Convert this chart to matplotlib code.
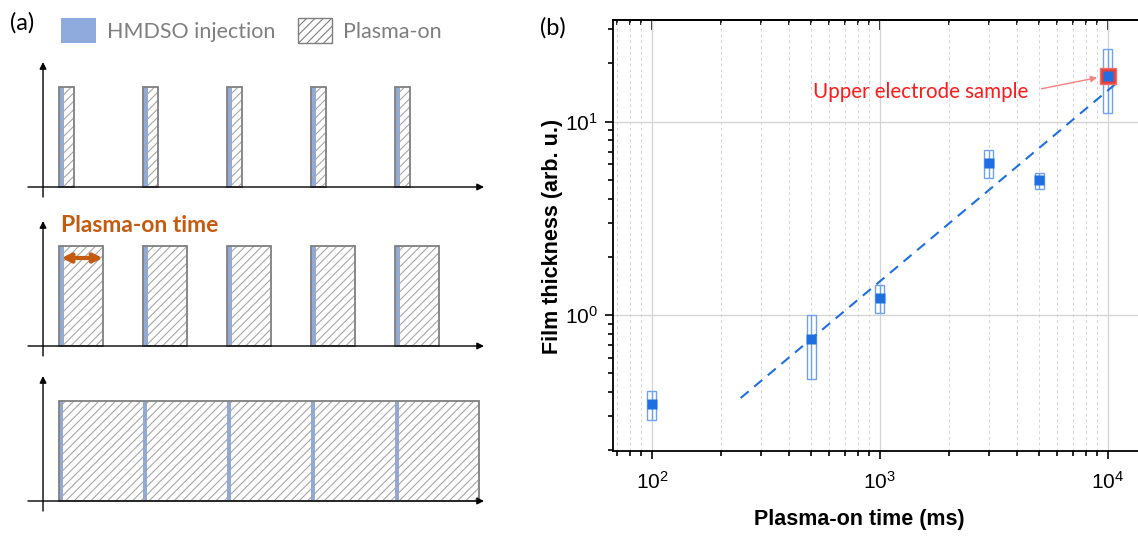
import matplotlib.pyplot as plt
from matplotlib.patches import Patch, Rectangle
from matplotlib.ticker import NullFormatter, LogLocator

plt.rcParams["hatch.linewidth"] = 0.8
plt.rcParams["font.family"] = "Liberation Sans"
plt.rcParams["mathtext.fontset"] = "custom"
plt.rcParams["mathtext.rm"] = "Liberation Sans"
plt.rcParams["mathtext.it"] = "Liberation Sans:italic"
plt.rcParams["mathtext.default"] = "regular"

# (a) schematic: pulse starts (in periods), HMDSO and plasma-on lengths per row
pulse_start = [0, 1, 2, 3, 4]
inject_len = [0.065, 0.065, 0.05]
plasma_len = [0.18, 0.52, 1.0]

# (b) film thickness vs plasma-on time
t_ms = [100, 500, 1000, 3000, 5000, 10000]
thick = [0.348, 0.75, 1.23, 6.13, 4.99, 17.3]
thick_lo = [0.287, 0.467, 1.02, 5.08, 4.46, 11.1]
thick_hi = [0.406, 1.0, 1.43, 7.13, 5.4, 23.8]
fit_t = [245, 10840]
fit_y = [0.372, 15.7]

W, H = 1138, 539
BLUE = "#8faadc"
GRAY = "#7f7f7f"
HATCH = "#a6a6a6"


def px(left, top, right, bottom):
    return [left / W, 1 - bottom / H, (right - left) / W, (bottom - top) / H]


def schematic_row(fig, baseline, inj, plas):
    ax = fig.add_axes(px(20, baseline - 135, 490, baseline + 20))
    ax.set_xlim(-0.464, 5.131)
    ax.set_ylim(-0.2, 1.35)
    ax.axis("off")
    if plas >= 1.0:
        starts = [pulse_start[0]]
        widths = [pulse_start[-1] + plas - pulse_start[0]]
    else:
        starts = pulse_start
        widths = [plas] * len(pulse_start)
    ax.bar(starts, 1, width=widths, align="edge", color="white", lw=0, zorder=1)
    ax.bar(pulse_start, 1, width=inj, align="edge", color=BLUE, lw=0, zorder=2)
    ax.bar(starts, 1, width=widths, align="edge", facecolor="none",
           edgecolor=HATCH, hatch="////", lw=0, zorder=3)
    ax.bar(starts, 1, width=widths, align="edge", facecolor="none",
           edgecolor=GRAY, lw=1.3, zorder=4)
    arrow = dict(arrowstyle="-|>", color="black", lw=1, mutation_scale=10, shrinkA=0, shrinkB=0)
    ax.annotate("", xy=(5.06, 0), xytext=(-0.369, 0), arrowprops=arrow, zorder=5)
    ax.annotate("", xy=(-0.19, 1.25), xytext=(-0.19, -0.1), arrowprops=arrow, zorder=5)
    return ax


fig = plt.figure(figsize=(W / 100, H / 100), dpi=100)

schematic_row(fig, 187, inject_len[0], plasma_len[0])
ax_mid = schematic_row(fig, 346, inject_len[1], plasma_len[1])
schematic_row(fig, 501, inject_len[2], plasma_len[2])

ax_mid.annotate("", xy=(pulse_start[0] + plasma_len[1], 0.88), xytext=(pulse_start[0] + 0.03, 0.88),
                arrowprops=dict(arrowstyle="<|-|>", color="#c55a11", lw=3,
                                mutation_scale=13, shrinkA=0, shrinkB=0), zorder=6)
ax_mid.text(pulse_start[0] + 0.02, 1.2, "Plasma-on time", color="#c55a11", fontsize=16.5,
            fontweight="bold", family="Lato", va="center", ha="left")

handles = [Patch(facecolor=BLUE, edgecolor="none"),
           Patch(facecolor="white", edgecolor=GRAY, hatch="////")]
fig.legend(handles, ["HMDSO injection", "Plasma-on"], loc="upper left",
           bbox_to_anchor=(42 / W, 1 + 1 / H), ncol=2, frameon=False,
           prop={"family": "Lato", "size": 15.5}, labelcolor=GRAY,
           handlelength=1.6, handleheight=1.4, handletextpad=0.5, columnspacing=1.05)
fig.text(10 / W, 1 - 23 / H, "(a)", fontsize=17, family="Lato", va="center")
fig.text(540 / W, 1 - 28 / H, "(b)", fontsize=17, family="Lato", va="center")

# (b)
ax = fig.add_axes(px(613, 20, 1138, 451))
ax.set_xscale("log")
ax.set_yscale("log")
ax.set_xlim(67.5, 13550)
ax.set_ylim(0.198, 33.5)

f = 1.0465
for t, lo, hi in zip(t_ms, thick_lo, thick_hi):
    ax.add_patch(Rectangle((t / f, lo), t * f - t / f, hi - lo, fill=False,
                           edgecolor="#6ea2ef", lw=1, zorder=3))
ax.vlines(t_ms, thick_lo, thick_hi, color="#6ea2ef", lw=1, zorder=3)
ax.plot(fit_t, fit_y, ls=(0, (5, 3.5)), color="#1f6fe0", lw=1.5, zorder=4)
ax.plot(t_ms[-1], thick[-1], "s", ms=11, color="#e8403a", mec="#f07070", zorder=5)
ax.plot(t_ms, thick, "s", ms=6.6, color="#1f6fe0", mec="none", zorder=6)

ax.annotate("Upper electrode sample", xy=(t_ms[-1], thick[-1]), xytext=(-80, -16),
            textcoords="offset pixels", ha="right", va="center", color="#ff1a1a",
            fontsize=14.8, family="Lato",
            arrowprops=dict(arrowstyle="-|>", color="#f4827e", lw=1, mutation_scale=9,
                            relpos=(1, 0.5), shrinkA=8, shrinkB=8))

ax.xaxis.set_minor_locator(LogLocator(base=10, subs=range(2, 10), numticks=20))
ax.yaxis.set_minor_locator(LogLocator(base=10, subs=range(2, 10), numticks=20))
ax.xaxis.set_minor_formatter(NullFormatter())
ax.yaxis.set_minor_formatter(NullFormatter())

ax.grid(which="major", color="#d3d3d3", lw=0.9)
ax.grid(which="minor", axis="x", color="#d6d6d6", lw=0.7, ls=(0, (3, 3)))
ax.set_axisbelow(True)

ax.spines["right"].set_visible(False)
for s in ["left", "bottom", "top"]:
    ax.spines[s].set_linewidth(1.3)
ax.tick_params(which="both", direction="out", labelsize=15, width=1.2)
ax.tick_params(which="major", length=6)
ax.tick_params(which="minor", length=3.5)
ax.tick_params(axis="x", which="major", pad=8)
ax.tick_params(axis="y", which="major", pad=5)

top = ax.secondary_xaxis("top")
top.xaxis.set_minor_locator(LogLocator(base=10, subs=range(2, 10), numticks=20))
top.tick_params(which="both", direction="in", labeltop=False, width=1.2)
top.tick_params(which="major", length=7)
top.tick_params(which="minor", length=3.5)
top.spines["top"].set_linewidth(1.3)

ax.set_xlabel("Plasma-on time (ms)", fontsize=15.5, fontweight="bold")
ax.set_ylabel("Film thickness (arb. u.)", fontsize=15.5, fontweight="bold")
ax.xaxis.set_label_coords(0.469, -0.135)
ax.yaxis.set_label_coords(-0.095, 0.497)

fig.savefig("out.png", dpi=100)
